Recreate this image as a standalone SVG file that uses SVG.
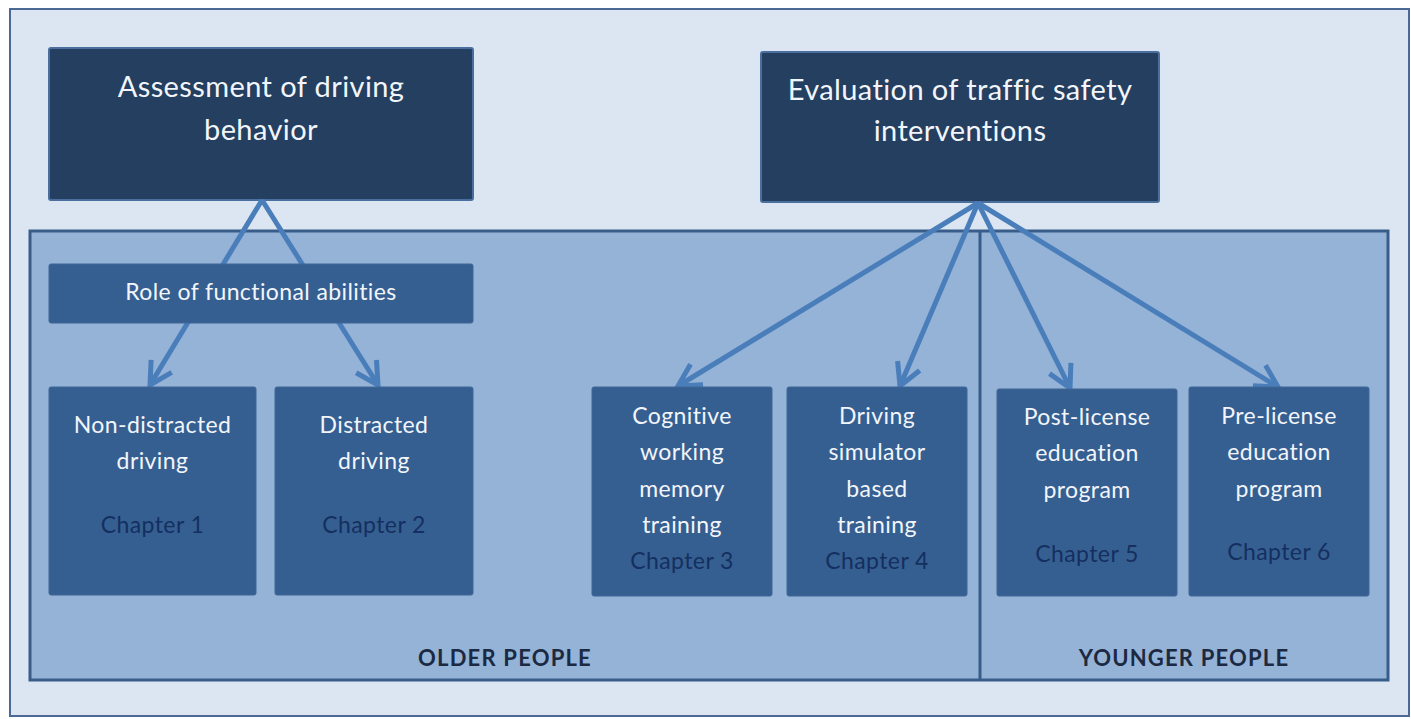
<svg xmlns="http://www.w3.org/2000/svg" width="1411" height="719" viewBox="0 0 1411 719">
  <style>
    .frame { fill: #dce6f2; stroke: #4a6a95; stroke-width: 2; }
    .region { fill: #95b3d7; stroke: #385d8a; stroke-width: 3; }
    .divider { stroke: #385d8a; stroke-width: 3; }
    .head { fill: #243f60; stroke: #4a6f9e; stroke-width: 2; }
    .box { fill: #365f91; stroke: #3f6696; stroke-width: 1; }
    .conn { stroke: #4a7ebb; stroke-width: 5; fill: none; }
    text { font-family: Lato, "Open Sans", "Liberation Sans", sans-serif; text-anchor: middle; font-variant-ligatures: none; }
    .t-head { fill: #f2f5fa; font-size: 29px; letter-spacing: 0.4px; }
    .t-box { fill: #f2f5fa; font-size: 23px; letter-spacing: 0.4px; }
    .t-ch { fill: #142f60; font-size: 23px; letter-spacing: 0.4px; }
    .t-grp { fill: #1b2a42; font-size: 22px; font-weight: bold; letter-spacing: 1.2px; }
  </style>
  <defs>
    <marker id="open-arrow" markerUnits="userSpaceOnUse" markerWidth="40" markerHeight="40" viewBox="-30 -20 40 40" refX="0" refY="0" orient="auto">
      <path d="M-22,-12 L0,0 L-22,12" fill="none" stroke="#4a7ebb" stroke-width="5" stroke-linejoin="miter"/>
    </marker>
  </defs>

  <!-- background frame -->
  <rect class="frame" x="10" y="9" width="1399" height="707"/>

  <!-- top-level headings -->
  <g id="assessment">
    <rect class="head" x="49" y="48" width="424" height="152" rx="2"/>
    <text class="t-head" x="261" y="97">Assessment of driving</text>
    <text class="t-head" x="261" y="140">behavior</text>
  </g>
  <g id="evaluation">
    <rect class="head" x="761" y="52" width="398" height="150" rx="2"/>
    <text class="t-head" x="960" y="100">Evaluation of traffic safety</text>
    <text class="t-head" x="960" y="141">interventions</text>
  </g>

  <!-- population area: older | younger -->
  <g id="population">
    <rect class="region" x="30" y="231" width="1358" height="449"/>
    <line class="divider" x1="980" y1="231" x2="980" y2="680"/>
    <text class="t-grp" x="505" y="666">OLDER PEOPLE</text>
    <text class="t-grp" x="1184" y="666">YOUNGER PEOPLE</text>
  </g>

  <!-- connectors -->
  <g id="connectors">
    <line class="conn" x1="262" y1="200" x2="150" y2="385" marker-end="url(#open-arrow)"/>
    <line class="conn" x1="262" y1="200" x2="378" y2="385" marker-end="url(#open-arrow)"/>
    <line class="conn" x1="978" y1="203" x2="678" y2="386" marker-end="url(#open-arrow)"/>
    <line class="conn" x1="978" y1="203" x2="900" y2="386" marker-end="url(#open-arrow)"/>
    <line class="conn" x1="978" y1="203" x2="1070" y2="388" marker-end="url(#open-arrow)"/>
    <line class="conn" x1="978" y1="203" x2="1278" y2="387" marker-end="url(#open-arrow)"/>
  </g>

  <g id="functional-abilities">
    <rect class="box" x="49" y="264" width="424" height="59" rx="2"/>
    <text class="t-box" x="261" y="300">Role of functional abilities</text>
  </g>

  <g id="chapter-1">
    <rect class="box" x="49" y="387" width="207" height="208" rx="2"/>
    <text class="t-box" x="152.5" y="433">Non-distracted</text>
    <text class="t-box" x="152.5" y="469">driving</text>
    <text class="t-ch" x="152.5" y="533">Chapter 1</text>
  </g>
  <g id="chapter-2">
    <rect class="box" x="275" y="387" width="198" height="208" rx="2"/>
    <text class="t-box" x="374" y="433">Distracted</text>
    <text class="t-box" x="374" y="469">driving</text>
    <text class="t-ch" x="374" y="533">Chapter 2</text>
  </g>
  <g id="chapter-3">
    <rect class="box" x="592" y="387" width="180" height="209" rx="2"/>
    <text class="t-box" x="682" y="424">Cognitive</text>
    <text class="t-box" x="682" y="460">working</text>
    <text class="t-box" x="682" y="497">memory</text>
    <text class="t-box" x="682" y="533">training</text>
    <text class="t-ch" x="682" y="569">Chapter 3</text>
  </g>
  <g id="chapter-4">
    <rect class="box" x="787" y="387" width="180" height="209" rx="2"/>
    <text class="t-box" x="877" y="424">Driving</text>
    <text class="t-box" x="877" y="460">simulator</text>
    <text class="t-box" x="877" y="497">based</text>
    <text class="t-box" x="877" y="533">training</text>
    <text class="t-ch" x="877" y="569">Chapter 4</text>
  </g>
  <g id="chapter-5">
    <rect class="box" x="997" y="389" width="180" height="207" rx="2"/>
    <text class="t-box" x="1087" y="425">Post-license</text>
    <text class="t-box" x="1087" y="461">education</text>
    <text class="t-box" x="1087" y="498">program</text>
    <text class="t-ch" x="1087" y="562">Chapter 5</text>
  </g>
  <g id="chapter-6">
    <rect class="box" x="1189" y="387" width="180" height="209" rx="2"/>
    <text class="t-box" x="1279" y="424">Pre-license</text>
    <text class="t-box" x="1279" y="460">education</text>
    <text class="t-box" x="1279" y="497">program</text>
    <text class="t-ch" x="1279" y="560">Chapter 6</text>
  </g>
</svg>
